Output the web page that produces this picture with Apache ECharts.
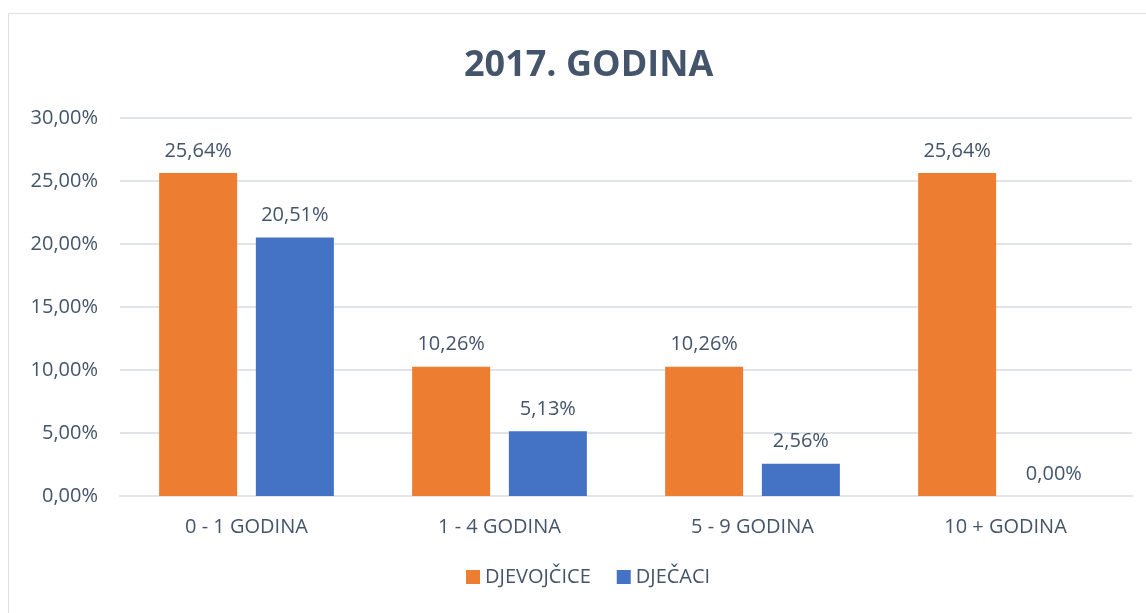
<!DOCTYPE html>
<html>
<head>
<meta charset="utf-8">
<script src="https://cdn.jsdelivr.net/npm/echarts@6/dist/echarts.min.js"></script>
<style>
  html, body { margin: 0; padding: 0; background: #fff; }
  #frame {
    position: absolute; left: 8px; top: 13px; width: 1160px; height: 640px;
    border: 1px solid #dcdfe4; box-sizing: border-box;
  }
  #chart { position: absolute; left: 0; top: 0; width: 1146px; height: 613px; }
</style>
</head>
<body>
<div id="frame"></div>
<div id="chart"></div>
<script>
// kategorije i vrijednosti (u postocima)
const categories = ["0 - 1 GODINA", "1 - 4 GODINA", "5 - 9 GODINA", "10 + GODINA"];
const seriesNames = ["DJEVOJČICE", "DJEČACI"];
const girls = [25.64, 10.26, 10.26, 25.64];
const boys = [20.51, 5.13, 2.56, 0.0];

const textColor = "#44546a";
const font = "'Open Sans', 'Noto Sans', sans-serif";
const fs = 20;

// 25.64 -> "25,64%"
const pct = (v) => v.toFixed(2).replace(".", ",") + "%";

const chart = echarts.init(document.getElementById("chart"), null, { renderer: "canvas" });

const option = {
  backgroundColor: "transparent",
  animation: false,
  title: {
    text: "2017. GODINA",
    left: 459,
    top: 43,
    textStyle: {
      color: textColor,
      fontSize: 36,
      fontWeight: "bold",
      fontFamily: font,
    },
  },
  grid: {
    left: 120,
    right: 14,
    top: 118,
    bottom: 117,
    containLabel: false,
  },
  legend: {
    bottom: 21,
    left: 461,
    itemWidth: 14,
    itemHeight: 14,
    itemGap: 26,
    icon: "rect",
    textStyle: { color: textColor, fontSize: fs, fontFamily: font },
    data: seriesNames,
  },
  xAxis: {
    type: "category",
    data: categories,
    axisLine: { show: true, lineStyle: { color: "#e1e4e8", width: 2 } },
    axisTick: { show: false },
    axisLabel: {
      color: textColor,
      fontSize: fs,
      fontFamily: font,
      margin: 21,
    },
  },
  yAxis: {
    type: "value",
    min: 0,
    max: 30,
    interval: 5,
    axisLine: { show: false },
    axisTick: { show: false },
    splitLine: { lineStyle: { color: "#e1e4e8", width: 2 } },
    axisLabel: {
      color: textColor,
      fontSize: fs,
      fontFamily: font,
      margin: 22,
      formatter: pct,
    },
  },
  series: [
    {
      name: seriesNames[0],
      type: "bar",
      data: girls,
      barWidth: 78,
      barGap: "24%",
      itemStyle: { color: "#ed7d31" },
      label: {
        show: true,
        position: "top",
        distance: 12,
        color: textColor,
        fontSize: fs,
        fontFamily: font,
        formatter: (p) => pct(p.value),
      },
    },
    {
      name: seriesNames[1],
      type: "bar",
      data: boys,
      barWidth: 78,
      itemStyle: { color: "#4472c4" },
      label: {
        show: true,
        position: "top",
        distance: 12,
        color: textColor,
        fontSize: fs,
        fontFamily: font,
        formatter: (p) => pct(p.value),
      },
    },
  ],
};

chart.setOption(option);
</script>
</body>
</html>
